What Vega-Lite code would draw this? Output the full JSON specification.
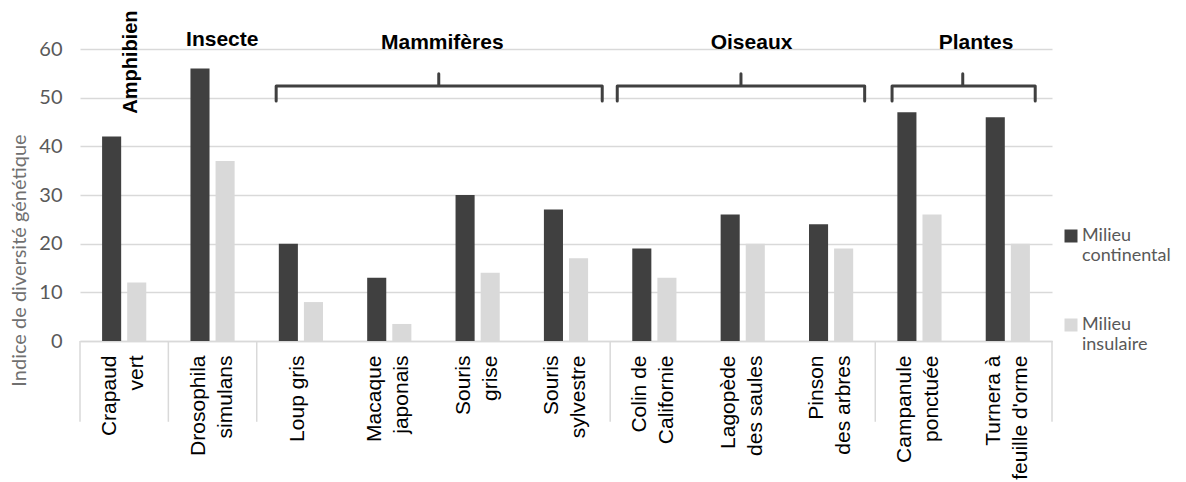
{
  "$schema": "https://vega.github.io/schema/vega-lite/v6.json",
  "width": 972,
  "height": 292,
  "autosize": {"type": "none"},
  "padding": {"left": 80, "top": 49, "right": 134, "bottom": 141},
  "background": "white",
  "config": {"view": {"stroke": null}},
  "datasets": {
    "bars": [
      {"species": "Crapaud vert", "milieu": "Milieu continental", "value": 42},
      {"species": "Crapaud vert", "milieu": "Milieu insulaire", "value": 12},
      {"species": "Drosophila simulans", "milieu": "Milieu continental", "value": 56},
      {"species": "Drosophila simulans", "milieu": "Milieu insulaire", "value": 37},
      {"species": "Loup gris", "milieu": "Milieu continental", "value": 20},
      {"species": "Loup gris", "milieu": "Milieu insulaire", "value": 8},
      {"species": "Macaque japonais", "milieu": "Milieu continental", "value": 13},
      {"species": "Macaque japonais", "milieu": "Milieu insulaire", "value": 3.5},
      {"species": "Souris grise", "milieu": "Milieu continental", "value": 30},
      {"species": "Souris grise", "milieu": "Milieu insulaire", "value": 14},
      {"species": "Souris sylvestre", "milieu": "Milieu continental", "value": 27},
      {"species": "Souris sylvestre", "milieu": "Milieu insulaire", "value": 17},
      {"species": "Colin de Californie", "milieu": "Milieu continental", "value": 19},
      {"species": "Colin de Californie", "milieu": "Milieu insulaire", "value": 13},
      {"species": "Lagopède des saules", "milieu": "Milieu continental", "value": 26},
      {"species": "Lagopède des saules", "milieu": "Milieu insulaire", "value": 20},
      {"species": "Pinson des arbres", "milieu": "Milieu continental", "value": 24},
      {"species": "Pinson des arbres", "milieu": "Milieu insulaire", "value": 19},
      {"species": "Campanule ponctuée", "milieu": "Milieu continental", "value": 47},
      {"species": "Campanule ponctuée", "milieu": "Milieu insulaire", "value": 26},
      {"species": "Turnera à feuille d'orme", "milieu": "Milieu continental", "value": 46},
      {"species": "Turnera à feuille d'orme", "milieu": "Milieu insulaire", "value": 20}
    ],
    "dividers": [{"pos": 0}, {"pos": 1}, {"pos": 2}, {"pos": 6}, {"pos": 9}, {"pos": 11}],
    "braces": [
      {"group": "Mammifères", "k": 0, "pos": 2.22, "v": 49.3},
      {"group": "Mammifères", "k": 1, "pos": 2.22, "v": 52.4},
      {"group": "Mammifères", "k": 2, "pos": 4.06, "v": 52.4},
      {"group": "Mammifères", "k": 3, "pos": 4.06, "v": 54.9},
      {"group": "Mammifères", "k": 4, "pos": 4.06, "v": 52.4},
      {"group": "Mammifères", "k": 5, "pos": 5.91, "v": 52.4},
      {"group": "Mammifères", "k": 6, "pos": 5.91, "v": 49.3},
      {"group": "Oiseaux", "k": 0, "pos": 6.08, "v": 49.3},
      {"group": "Oiseaux", "k": 1, "pos": 6.08, "v": 52.4},
      {"group": "Oiseaux", "k": 2, "pos": 7.48, "v": 52.4},
      {"group": "Oiseaux", "k": 3, "pos": 7.48, "v": 54.9},
      {"group": "Oiseaux", "k": 4, "pos": 7.48, "v": 52.4},
      {"group": "Oiseaux", "k": 5, "pos": 8.88, "v": 52.4},
      {"group": "Oiseaux", "k": 6, "pos": 8.88, "v": 49.3},
      {"group": "Plantes", "k": 0, "pos": 9.19, "v": 49.3},
      {"group": "Plantes", "k": 1, "pos": 9.19, "v": 52.4},
      {"group": "Plantes", "k": 2, "pos": 9.99, "v": 52.4},
      {"group": "Plantes", "k": 3, "pos": 9.99, "v": 54.9},
      {"group": "Plantes", "k": 4, "pos": 9.99, "v": 52.4},
      {"group": "Plantes", "k": 5, "pos": 10.81, "v": 52.4},
      {"group": "Plantes", "k": 6, "pos": 10.81, "v": 49.3}
    ],
    "groups": [
      {"label": "Insecte", "pos": 1.61, "v": 60.6},
      {"label": "Mammifères", "pos": 4.1, "v": 60.0},
      {"label": "Oiseaux", "pos": 7.6, "v": 60.0},
      {"label": "Plantes", "pos": 10.14, "v": 60.0}
    ],
    "rotated": [{"label": "Amphibien", "pos": 0.58, "v": 57.3}]
  },
  "resolve": {"scale": {"x": "independent"}},
  "layer": [
    {
      "data": {"name": "bars"},
      "mark": {"type": "bar"},
      "encoding": {
        "x": {
          "field": "species", "type": "nominal", "sort": null,
          "scale": {"paddingInner": 0.5, "paddingOuter": 0.25},
          "axis": {
            "title": null, "ticks": false, "domainColor": "#d9d9d9", "domainWidth": 1.5,
            "labelAngle": -90, "labelAlign": "right", "labelBaseline": "middle",
            "labelPadding": 14, "labelFont": "Liberation Sans", "labelFontSize": 21,
            "labelColor": "#000000", "labelLineHeight": 27, "labelLimit": 0,
            "labelOffset": {"condition": {"test": "datum.label == 'Loup gris'", "value": -3}, "value": -14},
            "labelExpr": "({'Crapaud vert':['Crapaud','vert'],'Drosophila simulans':['Drosophila','simulans'],'Loup gris':'Loup gris','Macaque japonais':['Macaque','japonais'],'Souris grise':['Souris','grise'],'Souris sylvestre':['Souris','sylvestre'],'Colin de Californie':['Colin de','Californie'],'Lagopède des saules':['Lagopède','des saules'],'Pinson des arbres':['Pinson','des arbres'],'Campanule ponctuée':['Campanule','ponctuée'],\"Turnera à feuille d'orme\":['Turnera à',\"feuille d'orme\"]})[datum.label]"
          }
        },
        "xOffset": {"field": "milieu", "type": "nominal", "scale": {"paddingInner": 0.24, "paddingOuter": 0}},
        "y": {
          "field": "value", "type": "quantitative",
          "scale": {"domain": [0, 60], "nice": false},
          "axis": {
            "title": "Indice de diversité génétique", "values": [0, 10, 20, 30, 40, 50, 60],
            "ticks": false, "domain": false, "gridColor": "#d9d9d9", "gridWidth": 1.5,
            "labelFont": "Lato", "labelFontSize": 20, "labelColor": "#595959", "labelPadding": 18,
            "titleFont": "Lato", "titleFontSize": 20, "titleFontWeight": "normal", "titleColor": "#707070",
            "titlePadding": 9, "titleY": 211
          }
        },
        "color": {
          "field": "milieu", "type": "nominal",
          "scale": {"domain": ["Milieu continental", "Milieu insulaire"], "range": ["#404040", "#d9d9d9"]},
          "legend": {
            "title": null, "orient": "none", "legendX": 982, "legendY": 178,
            "symbolType": "square", "symbolSize": 169, "symbolStrokeWidth": 0,
            "labelFont": "Lato", "labelFontSize": 18, "labelColor": "#595959", "labelLineHeight": 24,
            "labelOffset": 2, "rowPadding": 51, "labelLimit": 0,
            "labelExpr": "split(datum.label, ' ')"
          }
        }
      }
    },
    {
      "data": {"name": "dividers"},
      "mark": {"type": "rule", "color": "#d9d9d9", "strokeWidth": 1.5},
      "encoding": {
        "x": {"field": "pos", "type": "quantitative", "scale": {"domain": [0, 11], "nice": false, "zero": false}, "axis": null},
        "y": {"datum": 0, "type": "quantitative", "scale": {"domain": [0, 60], "nice": false}},
        "y2": {"datum": -16.6}
      }
    },
    {
      "data": {"name": "braces"},
      "mark": {"type": "line", "color": "#404040", "strokeWidth": 3, "strokeJoin": "round", "strokeCap": "round"},
      "encoding": {
        "x": {"field": "pos", "type": "quantitative", "scale": {"domain": [0, 11], "nice": false, "zero": false}, "axis": null},
        "y": {"field": "v", "type": "quantitative", "scale": {"domain": [0, 60], "nice": false}},
        "detail": {"field": "group"},
        "order": {"field": "k"}
      }
    },
    {
      "data": {"name": "groups"},
      "mark": {"type": "text", "font": "Liberation Sans", "fontWeight": "bold", "fontSize": 21, "color": "#000000", "align": "center", "baseline": "alphabetic"},
      "encoding": {
        "x": {"field": "pos", "type": "quantitative", "scale": {"domain": [0, 11], "nice": false, "zero": false}, "axis": null},
        "y": {"field": "v", "type": "quantitative", "scale": {"domain": [0, 60], "nice": false}},
        "text": {"field": "label"}
      }
    },
    {
      "data": {"name": "rotated"},
      "mark": {"type": "text", "font": "Liberation Sans", "fontWeight": "bold", "fontSize": 20, "color": "#000000", "align": "center", "baseline": "middle", "angle": -90},
      "encoding": {
        "x": {"field": "pos", "type": "quantitative", "scale": {"domain": [0, 11], "nice": false, "zero": false}, "axis": null},
        "y": {"field": "v", "type": "quantitative", "scale": {"domain": [0, 60], "nice": false}},
        "text": {"field": "label"}
      }
    }
  ]
}
